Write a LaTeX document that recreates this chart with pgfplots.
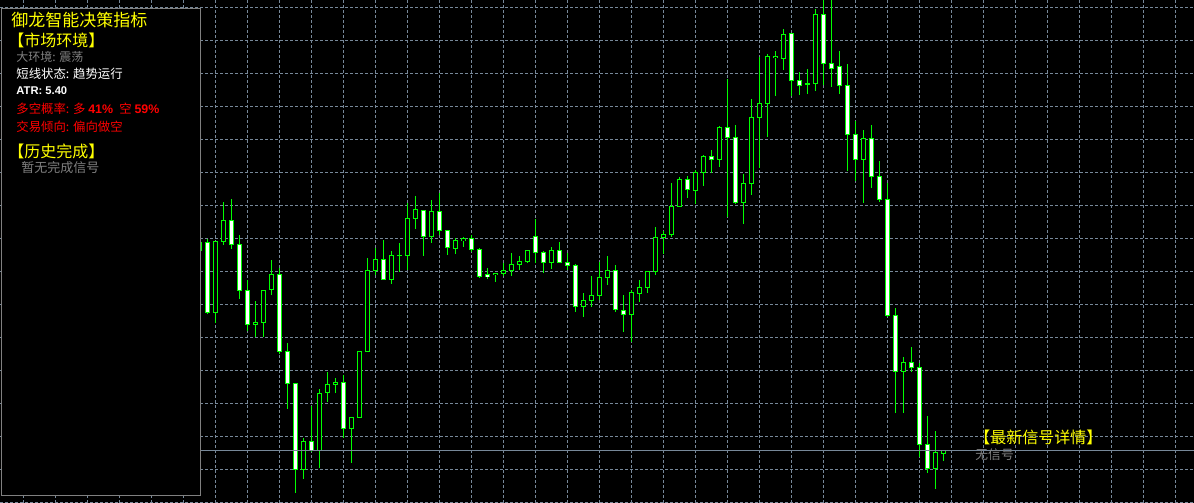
\documentclass[border=0pt]{standalone}
\usepackage{pgfplots}
\pgfplotsset{compat=1.18}
\usepackage{pgfplotstable}
\usepackage{fontspec}
\newfontfamily\cjk{Noto Sans CJK SC}
\newfontfamily\lat{Liberation Sans}
\definecolor{gridc}{RGB}{119,136,153}
\definecolor{candle}{RGB}{0,255,0}
\definecolor{txtgray}{RGB}{128,128,128}
\definecolor{sigyellow}{RGB}{255,255,0}
\definecolor{sigred}{RGB}{255,0,0}

% bars in screen rows (y grows downward): i open high low close
\pgfplotstableread{
i   o     h     l     c
-1  250   240   252   242
0   242   239.3 313.7 312.3
1   312.7 241.3 323.3 241.3
2   241.7 202   245   220.3
3   220.3 199   249   244.3
4   244.3 235   299   290.3
5   290.3 280   330.7 324.3
6   324.3 300.7 336.7 322.3
7   322.3 290.3 337.3 290.3
8   289.3 260   294.7 274.3
9   274.3 268.3 354.3 351.3
10  351.3 343.3 408.7 383.3
11  383.3 383.3 492.7 469.3
12  469.3 438   479.3 441.3
13  441.3 406   451.7 450.3
14  450.3 389.3 467.7 393.3
15  392.3 372.3 402.3 384.3
16  384.3 378.3 393.3 382.3
17  382.3 375.3 438.3 428.3
18  428.3 417.3 462.7 417.3
19  417.3 351.3 417.3 351.3
20  351.3 258.3 351.3 270.3
21  270.3 248.3 275.3 259.3
22  259.3 240   279.3 279.3
23  279.3 251   284.3 255.7
24  255.3 242.7 272.3 255.3
25  255.7 203.3 270   218.3
26  218.7 196   228.7 209.3
27  210.3 210.3 255.7 236.7
28  236.7 200   242.7 211.3
29  211.3 192.7 235   230.7
30  230.3 230.3 254.7 247.7
31  248.7 238.3 254   240.3
32  240.7 237   246.7 238.3
33  238.3 235.3 251.7 249.7
34  249.3 248   278   276.7
35  274.3 268   279   276.7
36  274.7 273.3 282   273.3
37  273.3 262.7 276   270
38  270.7 253   276   264
39  264.7 256   270   261
40  261   250   262.7 250
41  236.3 219   263.3 252.7
42  252.3 251.3 272.7 262.7
43  262.7 246.7 269.3 250.3
44  250.3 242   263.3 262.7
45  262.3 253.3 270   265.3
46  265.3 264   311.7 306.7
47  306.7 293   316.7 300.3
48  300.7 276   306.7 295.3
49  295.3 261.7 300   277.3
50  277.3 256   285   270.3
51  270.3 265   311.7 309.3
52  310.3 295   331.7 314.7
53  314.7 290   341.7 292.3
54  293.3 280   301.7 287.3
55  287.7 271.3 292.7 271.3
56  271.3 227   275   237.3
57  237.3 231   254   234.3
58  234.7 182.7 236.7 206
59  206.7 177.3 206.7 179
60  179   176   197.7 189.3
61  190.7 170   203.7 172.3
62  172.7 155   185.7 156.3
63  156.3 150   172.7 159.3
64  159.7 126   166.7 127
65  127   78.7  216.7 137.3
66  137   125   204   202.7
67  202.7 174   224   183.3
68  183.7 99    195   117
69  117.7 56.7  167.7 103.3
70  103.7 54    136.7 56
71  57.3  51    95.7  56
72  58.7  29    70    34
73  34    34    95.7  80.3
74  80.3  72    95    85.3
75  83.7  69    94    83.3
76  83.7  9     90.7  14
77  14    0     85    63.3
78  63.3  0     86.7  68.3
79  67    51    94    85.7
80  85    64    170.7 134.7
81  134.3 120.7 181   159.5
82  159.5 130   202.7 138.2
83  138.2 125   187.7 176.3
84  176.3 161   201.5 199.5
85  199.3 183   316.7 315.3
86  315.3 308.3 412.7 371.3
87  371.3 357.3 412.7 362.3
88  362.3 347.3 372.3 367.3
89  367.3 363.3 456.7 444.3
90  444.3 416   473.3 468.7
91  468.7 431.3 489.3 452
92  453   450.3 460.7 450.3
}\candles

\begin{document}
\begin{tikzpicture}
\begin{axis}[
    name=ax,
    x=0.5pt, y=0.5pt, y dir=reverse,
    xmin=0, xmax=1194, ymin=0, ymax=503,
    axis background/.style={fill=black},
    axis line style={draw=none},
    major tick length=0pt,
    xtick={23.3,55.3,...,1180}, ytick={7.3,40.3,...,505},
    xticklabels={}, yticklabels={},
    grid=major,
    grid style={draw=gridc, line width=0.5pt, dash pattern=on 1.5pt off 1pt},
    clip=true,
]
% wicks
\addplot[draw=none, mark=none, forget plot,
    error bars/.cd, y dir=both, y explicit, error mark=none,
    error bar style={draw=candle, solid, line width=0.5pt}]
    table[x expr={207.3+8*\thisrow{i}}, y expr={(\thisrow{h}+\thisrow{l})/2},
          y error expr={(\thisrow{l}-\thisrow{h})/2}] {\candles};
% body outline
\addplot[draw=none, mark=none, forget plot,
    error bars/.cd, y dir=both, y explicit, error mark=none,
    error bar style={draw=candle, solid, line width=2.5pt}]
    table[x expr={207.3+8*\thisrow{i}}, y expr={(\thisrow{o}+\thisrow{c})/2},
          y error expr={abs(\thisrow{c}-\thisrow{o})/2+0.5}] {\candles};
% bull bodies (hollow)
\addplot[draw=none, mark=none, forget plot,
    error bars/.cd, y dir=both, y explicit, error mark=none,
    error bar style={draw=black, solid, line width=1.5pt}]
    table[x expr={207.3+8*\thisrow{i}}, y expr={(\thisrow{o}+\thisrow{c})/2},
          y error expr={max(abs(\thisrow{c}-\thisrow{o})/2-0.5,0)}] {\candles};
% bear bodies (white)
\addplot[draw=none, mark=none, forget plot,
    error bars/.cd, y dir=both, y explicit, error mark=none,
    error bar style={draw=white, solid, line width=1.5pt}]
    table[x expr={207.3+8*\thisrow{i}}, y expr={(\thisrow{o}+\thisrow{c})/2},
          y error expr={(\thisrow{c}>\thisrow{o})*max(abs(\thisrow{c}-\thisrow{o})/2-0.5,0)}] {\candles};

% current price line
\draw[gridc, line width=0.5pt] (axis cs:200,450.3) -- (axis cs:1194,450.3);

% info panel
\draw[fill=black, draw=txtgray, line width=0.5pt] (axis cs:1.3,8.3) rectangle (axis cs:200.3,495);

\node[anchor=west, inner sep=0, text=sigyellow, font=\cjk\fontsize{8.5}{10}\selectfont] at (axis cs:11,20) {御龙智能决策指标};
\node[anchor=west, inner sep=0, text=sigyellow, font=\cjk\fontsize{8}{10}\selectfont] at (axis cs:8,40) {【市场环境】};
\node[anchor=west, inner sep=0, text=txtgray, font=\cjk\fontsize{6}{8}\selectfont] at (axis cs:16,56.5) {大环境: 震荡};
\node[anchor=west, inner sep=0, text=white, font=\cjk\fontsize{6.2}{8}\selectfont] at (axis cs:16,73.5) {短线状态: 趋势运行};
\node[anchor=west, inner sep=0, text=white, font=\lat\bfseries\fontsize{5.6}{7}\selectfont] at (axis cs:16,90.5) {ATR: 5.40};
\node[anchor=west, inner sep=0, text=sigred, font=\cjk\fontsize{6.2}{8}\selectfont] at (axis cs:16,109) {多空概率: 多 {\lat\bfseries 41\%}\enspace 空 {\lat\bfseries 59\%}};
\node[anchor=west, inner sep=0, text=sigred, font=\cjk\fontsize{6.2}{8}\selectfont] at (axis cs:16,126.5) {交易倾向: 偏向做空};
\node[anchor=west, inner sep=0, text=sigyellow, font=\cjk\fontsize{8}{10}\selectfont] at (axis cs:8,151.5) {【历史完成】};
\node[anchor=west, inner sep=0, text=txtgray, font=\cjk\fontsize{6.5}{8}\selectfont] at (axis cs:21,167.5) {暂无完成信号};

\node[anchor=west, inner sep=0, text=sigyellow, font=\cjk\fontsize{8}{10}\selectfont] at (axis cs:974,437.5) {【最新信号详情】};
\node[anchor=west, inner sep=0, text=txtgray, font=\cjk\fontsize{6.4}{8}\selectfont] at (axis cs:975,454.5) {无信号};
\end{axis}
\pgfresetboundingbox
\path (ax.south west) rectangle (ax.north east);
\end{tikzpicture}
\end{document}
